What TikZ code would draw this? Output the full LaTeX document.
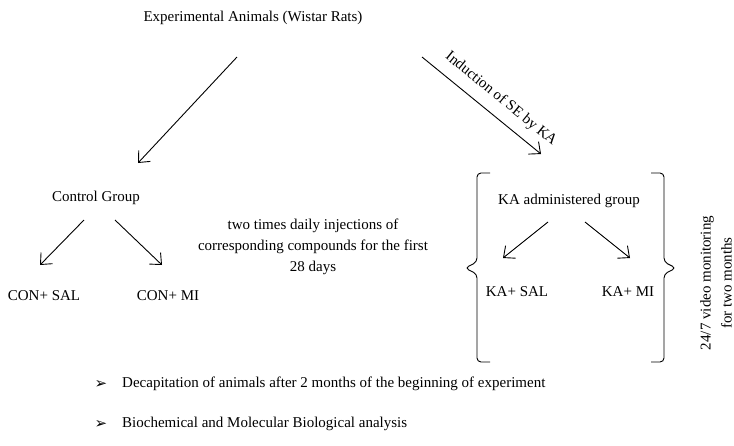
\documentclass[tikz,border=0pt]{standalone}
\usepackage{fontspec}
\setmainfont{Liberation Serif}
\newfontfamily\symfont{DejaVu Sans}
\usetikzlibrary{arrows.meta}
\tikzset{
  lbl/.style={inner sep=0pt, font=\fontsize{15}{21}\selectfont},
  bul/.style={inner sep=0pt, font=\symfont\fontsize{15}{15}\selectfont},
  arr/.style={line width=0.9pt, -{Straight Barb[length=9pt,width=16pt,line width=0.9pt]}},
  brk/.style={line width=0.9pt, rounded corners=4pt},
}
\begin{document}
\begin{tikzpicture}[x=1pt,y=-1pt]
\useasboundingbox (0,0) rectangle (734,445);
% text nodes
\node[lbl] (title) at (253,18) {Experimental Animals (Wistar Rats)};
\node[lbl] (ctrl) at (96,198) {Control Group};
\node[lbl] (csal) at (44,296) {CON+ SAL};
\node[lbl] (cmi) at (168,296) {CON+ MI};
\node[lbl, align=center] (inj) at (313,247) {two times daily injections of\\corresponding compounds for the first\\28 days};
\node[lbl] (ka) at (569,201) {KA administered group};
\node[lbl] (ksal) at (517,292) {KA+ SAL};
\node[lbl] (kmi) at (628,292) {KA+ MI};
\node[lbl, rotate=90, align=center] (vid) at (716,283) {24/7 video monitoring\\for two months};
\node[lbl, rotate=-39.2] (ind) at (501,99) {Induction of SE by KA};
\node[bul] (b1) at (101,384) {➢};
\node[lbl, anchor=west] (t1) at (122,384) {Decapitation of animals after 2 months of the beginning of experiment};
\node[bul] (b2) at (101,424) {➢};
\node[lbl, anchor=west] (t2) at (122,424) {Biochemical and Molecular Biological analysis};
% connector end points
\coordinate (a1s) at (237,57);  \coordinate (a1e) at (138,163);
\coordinate (a2s) at (422,57);  \coordinate (a2e) at (541,154);
\coordinate (c1s) at (84,220);  \coordinate (c1e) at (40,265);
\coordinate (c2s) at (115,220); \coordinate (c2e) at (162,265);
\coordinate (k1s) at (548,222); \coordinate (k1e) at (503,258);
\coordinate (k2s) at (585,222); \coordinate (k2e) at (630,258);
% connectors
\draw[arr] (a1s) -- (a1e);
\draw[arr] (a2s) -- (a2e);
\draw[arr] (c1s) -- (c1e);
\draw[arr] (c2s) -- (c2e);
\draw[arr] (k1s) -- (k1e);
\draw[arr] (k2s) -- (k2e);
% brackets
\draw[brk] (490,173) -- (477,173) -- (477,262) -- (465,268) -- (477,274) -- (477,362) -- (490,362);
\draw[brk] (651,173) -- (664,173) -- (664,262) -- (676,268) -- (664,274) -- (664,362) -- (651,362);
\end{tikzpicture}
\end{document}
